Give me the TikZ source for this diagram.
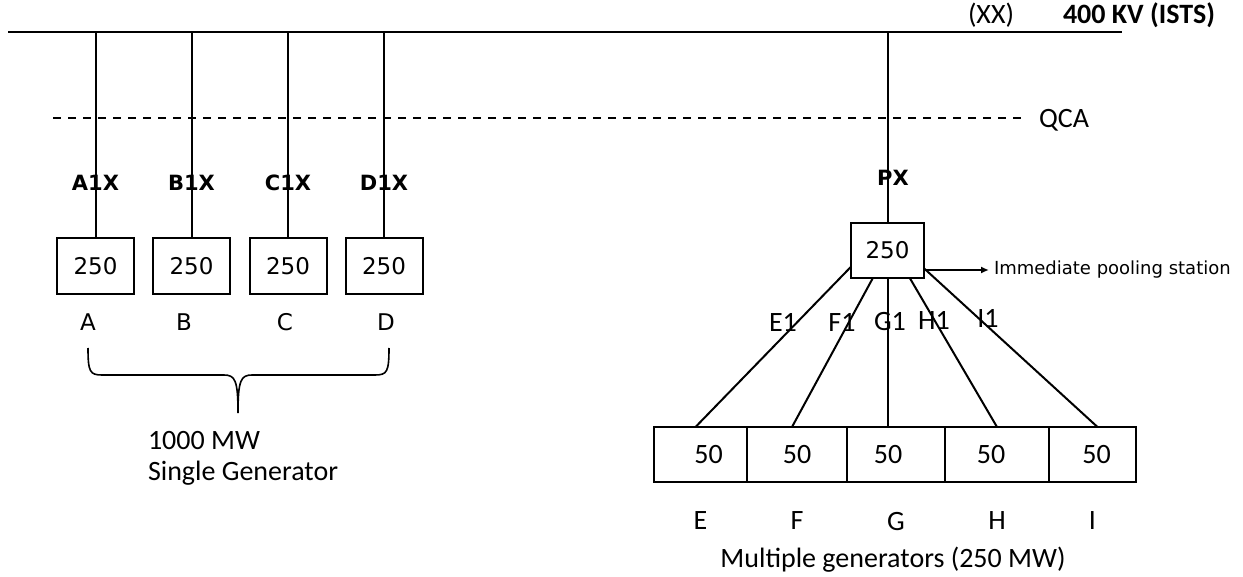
\documentclass[tikz,border=0pt]{standalone}
\usepackage{fontspec}
\setmainfont{Carlito}
\newfontfamily\dejavu{DejaVu Sans}
\usetikzlibrary{positioning,arrows.meta}

\begin{document}
\begin{tikzpicture}[x=0.5pt, y=-0.5pt, line width=1pt,
		every node/.style={inner sep=0pt, font=\fontsize{14}{17}\selectfont},
		genbox/.style={draw, outer sep=0pt, minimum width=38.5pt, minimum height=28pt, font=\dejavu\fontsize{11.5}{14}\selectfont},
		unitbox/.style={draw, outer sep=0pt, minimum height=27.5pt},
		feeder/.style={font=\dejavu\bfseries\fontsize{10.5}{13}\selectfont},
		gname/.style={font=\dejavu\fontsize{11.5}{14}\selectfont}]
		
		\useasboundingbox (0,0) rectangle (1243,577);
		
		\coordinate (busL) at (8,32);
		\coordinate (busR) at (1122,32);
		\draw (busL) -- (busR);
		\node[anchor=base west] (xx) at (967,24) {(XX)};
		\node[anchor=base west, font=\bfseries\fontsize{14}{17}\selectfont] (kv) at (1062,24) {400 KV (ISTS)};
		
		\coordinate (qcaL) at (53,118);
		\node[anchor=base west, inner xsep=7.5pt] (qca) at (1023,128) {QCA};
		\draw[line width=0.7pt, dash pattern=on 4pt off 3.5pt] (qcaL) -- (qcaL -| qca.west);
		
		\foreach \g/\x/\lx in {A/95.5/88, B/191.5/184, C/288/285, D/384/386} {
			\node[genbox] (gen\g) at (\x,266) {250};
			\draw (gen\g.north) -- (gen\g.north |- busL);
			\node[feeder] (fd\g) at (\x,183) {\g1X};
			\node[gname] (name\g) at (\lx,322) {\g};
		}
		
		\draw[line width=0.8pt] (88,348) .. controls (88,372) and (90,375) .. (102,375) -- (224,375)
			.. controls (235,375) and (238,380) .. (238,413)
			.. controls (238,380) and (241,375) .. (252,375) -- (375,375)
			.. controls (387,375) and (389,372) .. (389,348);
		\node[anchor=north west, align=left, font=\fontsize{14}{15.5}\selectfont] (mw) at (147,430) {1000 MW\\Single Generator};
		
		\node[genbox, minimum width=36.5pt, minimum height=27.5pt] (pool) at (887.5,250.5) {250};
		\draw (pool.north) -- (pool.north |- busR);
		\node[feeder] (fdP) at (893,178) {PX};
		\node[anchor=west, inner sep=2pt, font=\dejavu\fontsize{9}{11}\selectfont] (ips) at (989,270) {Immediate pooling station};
		\draw[-{Latex[length=4pt,width=3.5pt]}] (pool.east |- ips.west) -- (ips.west);
		
		\node[unitbox, minimum width=46.5pt] (genE) at (700.5,454.5) {\kern8pt 50};
		\node[unitbox, minimum width=50pt, right=0pt of genE] (genF) {50};
		\node[unitbox, minimum width=49pt, right=0pt of genF] (genG) {50\kern8pt};
		\node[unitbox, minimum width=52pt, right=0pt of genG] (genH) {50\kern6pt};
		\node[unitbox, minimum width=43.5pt, right=0pt of genH] (genI) {\kern4pt 50};
		\foreach \g in {E,F,G,H,I}
			\node[below=14.5pt of gen\g] (name\g) {\g};
		
		\draw (pool.204) -- ([xshift=-2.5pt]genE.north);
		\draw (pool.242) -- ([xshift=-2.5pt]genF.north);
		\draw (pool.south) -- (pool.south |- genG.north);
		\draw (pool.309) -- (genH.north);
		\draw (pool.334) -- ([xshift=2.5pt]genI.north);
		
		\node (brE) at (783,322) {E1};
		\node (brF) at (842,322) {F1};
		\node (brG) at (890,322) {G1};
		\node (brH) at (934,320) {H1};
		\node (brI) at (988,318) {I1};
		
		\node (multi) at (893,560) {Multiple generators (250 MW)};
	\end{tikzpicture}
\end{document}
